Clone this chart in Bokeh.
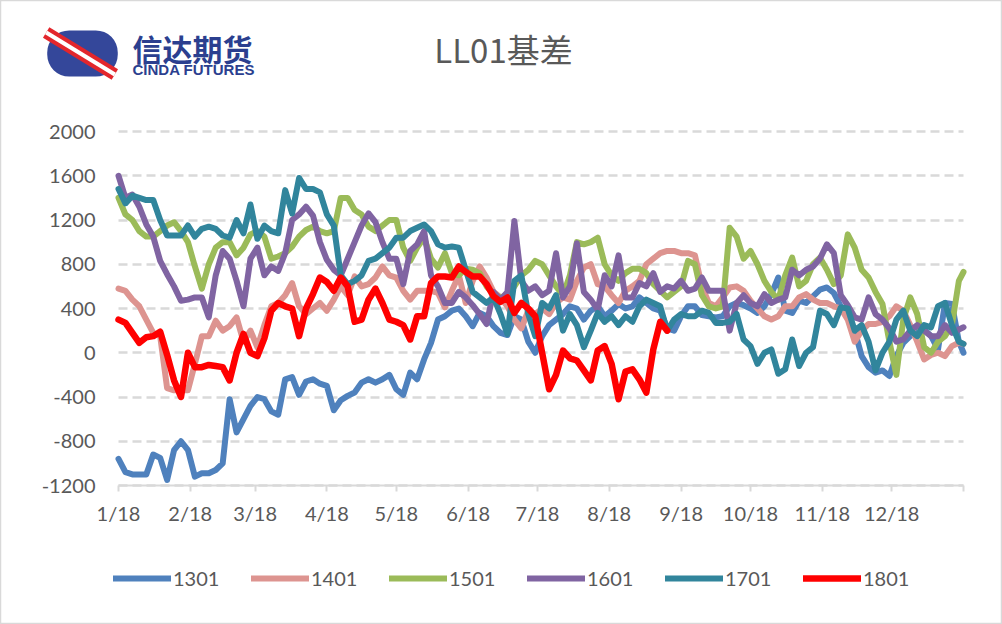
from bokeh.plotting import figure
from bokeh.models import Range1d, Label, Legend, LegendItem, FixedTicker
from bokeh.embed import file_html
from bokeh.resources import INLINE

# x positions: days after 1/18 (season day), ticks on the 18th of each month
days = list(range(0, 364, 3)) + [365]
tick_days = [0, 31, 59, 90, 120, 151, 181, 212, 243, 273, 304, 334, 365]
tick_labels = ["1/18", "2/18", "3/18", "4/18", "5/18", "6/18", "7/18",
               "8/18", "9/18", "10/18", "11/18", "12/18", ""]
y_ticks = [-1200, -800, -400, 0, 400, 800, 1200, 1600, 2000]

s1301 = [-960, -1080, -1100, -1100, -1100, -920, -950, -1150, -880, -800,
         -880, -1120, -1090, -1090, -1060, -1000, -420, -720, -600, -480,
         -400, -420, -530, -560, -240, -220, -380, -260, -240, -280,
         -300, -520, -430, -390, -360, -270, -240, -270, -240, -200,
         -330, -380, -180, -240, -60, 90, 300, 330, 380, 400,
         330, 240, 360, 330, 240, 180, 160, 330, 300, 100,
         0, 150, 250, 300, 350, 420, 400, 300, 380, 420,
         330, 380, 440, 400, 420, 500, 450, 400, 380, 220,
         200, 330, 420, 420, 340, 330, 320, 330, 420, 450,
         430, 400, 360, 420, 530, 680, 380, 360, 470, 450,
         510, 570, 590, 540, 420, 320, 200, -30, -130, -180,
         -160, -210, -30, 90, 150, 200, 210, 150, 30, 450,
         440, 100, 0]

s1401 = [580, 560, 480, 420, 300, 180, 150, -320, -340, -340,
         -340, -100, 150, 150, 290, 200, 240, 320, 100, 200,
         50, 250, 420, 450, 520, 630, 420, 350, 400, 450,
         380, 480, 600, 520, 690, 600, 620, 680, 780, 700,
         680, 560, 480, 560, 560, 560, 540, 410, 560, 700,
         450, 650, 780, 680, 550, 500, 420, 300, 220, 380,
         350, 400, 350, 450, 500, 480, 650, 770, 800, 620,
         600, 520, 450, 560, 600, 650, 800, 850, 900, 920,
         920, 900, 900, 880, 600, 450, 420, 500, 590, 600,
         560, 470, 400, 330, 300, 330, 420, 420, 500, 530,
         480, 450, 450, 420, 400, 300, 100, 200, 260, 260,
         280, 330, 420, 380, 250, 100, -60, -20, 0, -30,
         60, 90, 80]

s1501 = [1400, 1250, 1200, 1100, 1050, 1050, 1100, 1150, 1180, 1100,
         1000, 780, 580, 800, 950, 1000, 1000, 880, 950, 1070,
         1100, 1050, 850, 870, 900, 960, 1050, 1110, 1140, 1100,
         1080, 1100, 1400, 1400, 1290, 1250, 1140, 1100, 1150, 1200,
         1200, 950, 830, 950, 1040, 850, 770, 900, 720, 700,
         760, 750, 720, 600, 530, 500, 520, 600, 700, 750,
         830, 800, 700, 600, 520, 700, 1000, 980, 1000, 1040,
         800, 700, 650, 720, 760, 760, 720, 620, 560, 500,
         550, 600, 830, 800, 520, 420, 400, 420, 1130, 1050,
         850, 920, 800, 650, 550, 480, 700, 860, 600, 650,
         800, 860, 750, 620, 700, 1070, 950, 750, 680, 550,
         440, 100, -200, 300, 500, 350, 50, 0, 100, 150,
         250, 650, 730]

s1601 = [1600, 1400, 1430, 1320, 1160, 1050, 830, 710, 600, 470,
         480, 500, 500, 320, 700, 920, 850, 650, 420, 850,
         950, 700, 780, 740, 900, 1200, 1250, 1320, 1240, 1000,
         840, 750, 700, 850, 1000, 1150, 1260, 1180, 1000, 850,
         850, 620, 920, 980, 1100, 700, 600, 450, 450, 550,
         500, 430, 350, 260, 550, 480, 550, 1190, 650, 560,
         600, 520, 560, 900, 500, 600, 990, 550, 480, 390,
         700, 600, 880, 500, 500, 630, 600, 720, 550, 600,
         580, 650, 560, 580, 680, 560, 560, 560, 200, 450,
         520, 450, 420, 530, 450, 480, 500, 750, 700, 750,
         780, 850, 980, 900, 520, 430, 320, 300, 500, 350,
         300, 220, 100, 120, 200, 250, 200, 150, 150, 250,
         180, 210, 230]

s1701 = [1480, 1350, 1420, 1400, 1380, 1380, 1200, 1060, 1060, 1060,
         1150, 1050, 1120, 1140, 1120, 1060, 1040, 1200, 1080, 1340,
         1030, 1150, 1100, 1080, 1470, 1260, 1580, 1480, 1480, 1450,
         1250, 1150, 700, 620, 650, 700, 830, 850, 900, 950,
         1040, 1040, 1100, 1130, 1160, 1100, 980, 950, 960, 950,
         750, 550, 500, 450, 500, 350, 170, 650, 700, 350,
         150, 450, 400, 520, 200, 350, 250, 50, 200, 360,
         280, 330, 250, 330, 280, 420, 480, 450, 420, 200,
         300, 350, 330, 330, 380, 360, 270, 270, 280, 350,
         120, 60, -100, 0, 30, -190, -150, 120, -120, 0,
         50, 380, 350, 250, 410, 400, 200, 250, 100, -160,
         0, 100, 300, 380, 200, 150, 250, 230, 420, 450,
         250, 100, 80]

s1801 = [300, 270, 180, 90, 140, 150, 190, -20, -250, -400,
         0, -130, -130, -110, -120, -130, -250, 0, 170, 0,
         -30, 130, 380, 450, 420, 400, 150, 400, 530, 680,
         640, 560, 680, 600, 280, 300, 480, 580, 450, 300,
         280, 250, 120, 330, 330, 630, 690, 690, 680, 780,
         730, 690, 690, 620, 510, 460, 500, 360, 450, 400,
         330, 0, -330, -200, 20, -50, -70, -160, -250, 20,
         60, -100, -420, -170, -150, -240, -360, 30, 280, 200]

series = [("1301", s1301, "#4F81BD", 6),
          ("1401", s1401, "#DD9490", 6),
          ("1501", s1501, "#9BBB59", 6),
          ("1601", s1601, "#8064A2", 6),
          ("1701", s1701, "#31859C", 6),
          ("1801", s1801, "#FF0000", 6.5)]

TXT = "#595959"
FONT = "Lato"
W, H = 1002, 624

# frame spans the whole picture; the data area (0..365 days, -1200..2000)
# sits at pixels x 118..963, y 131..485
px_per_day = 845 / 365
units_per_px = 3200 / 354
x0 = 0 - 118 / px_per_day
x1 = 365 + (W - 963) / px_per_day
y1 = 2000 + 131 * units_per_px
y0 = -1200 - (H - 485) * units_per_px

p = figure(width=W, height=H, output_backend="svg", toolbar_location=None,
           x_range=Range1d(x0, x1), y_range=Range1d(y0, y1), min_border=0)
p.outline_line_color = "#D9D9D9"
p.outline_line_width = 1.5
p.background_fill_color = "white"
p.border_fill_color = "white"

p.xgrid.visible = False
p.ygrid.grid_line_color = "#D9D9D9"
p.ygrid.grid_line_width = 2.5
p.ygrid.grid_line_dash = "9 5"
p.ygrid.bounds = (-1200, 2000)
p.ygrid.cross_bounds = (0, 365)

p.xaxis.fixed_location = -1200
p.xaxis.bounds = (0, 365)
p.xaxis.ticker = FixedTicker(ticks=tick_days)
p.xaxis.major_label_overrides = {d: l for d, l in zip(tick_days, tick_labels)}
p.xaxis.axis_line_color = "#D9D9D9"
p.xaxis.axis_line_width = 2
p.xaxis.major_tick_line_color = "#D9D9D9"
p.xaxis.major_tick_line_width = 2
p.xaxis.major_tick_in = 0
p.xaxis.major_tick_out = 6
p.xaxis.minor_tick_line_color = None
p.xaxis.major_label_standoff = 9
p.xaxis.major_label_text_font = FONT
p.xaxis.major_label_text_font_size = "20px"
p.xaxis.major_label_text_color = TXT

p.yaxis.fixed_location = 0
p.yaxis.bounds = (-1200, 2000)
p.yaxis.ticker = FixedTicker(ticks=y_ticks)
p.yaxis.major_label_overrides = {v: str(v) for v in y_ticks}
p.yaxis.axis_line_color = None
p.yaxis.major_tick_line_color = None
p.yaxis.minor_tick_line_color = None
p.yaxis.major_tick_in = 0
p.yaxis.major_tick_out = 0
p.yaxis.major_label_standoff = 23
p.yaxis.major_label_text_font = FONT
p.yaxis.major_label_text_font_size = "20px"
p.yaxis.major_label_text_color = TXT

items = []
for name, vals, color, lw in series:
    r = p.line(days[:len(vals)], vals, line_color=color, line_width=lw,
               line_join="round", line_cap="round")
    items.append(LegendItem(label=name, renderers=[r]))

legend = Legend(items=items, orientation="horizontal", location=(113, 34),
                glyph_width=58, glyph_height=24, label_height=24, label_width=78,
                label_standoff=2, spacing=0, padding=0, margin=0,
                border_line_color=None, background_fill_alpha=0,
                label_text_font=FONT, label_text_font_size="20px",
                label_text_color=TXT)
p.add_layout(legend)

# title
p.add_layout(Label(x=503, y=H - 48, x_units="screen", y_units="screen",
                   text="LL01基差", text_font="Noto Sans CJK SC",
                   text_font_size="33px", text_color=TXT,
                   text_align="center", text_baseline="middle"))

# logo: ellipse with red swoosh, and company name
p.add_layout(Label(x=82, y=H - 53, x_units="screen", y_units="screen", text=" ",
                   text_font_size="2px", text_align="center", text_baseline="middle",
                   background_fill_color="#34479A",
                   padding=dict(left=35, right=35, top=22, bottom=22),
                   border_radius=22))
p.add_layout(Label(x=80, y=H - 53, x_units="screen", y_units="screen", text=" ",
                   text_font_size="2px", text_align="center", text_baseline="middle",
                   angle=-0.55, background_fill_color="#E3262C",
                   padding=dict(left=40, right=40, top=5, bottom=5)))
p.add_layout(Label(x=80, y=H - 53, x_units="screen", y_units="screen", text=" ",
                   text_font_size="2px", text_align="center", text_baseline="middle",
                   angle=-0.55, background_fill_color="white",
                   padding=dict(left=40, right=40, top=1, bottom=1)))
p.add_layout(Label(x=132, y=H - 47, x_units="screen", y_units="screen",
                   text="信达期货", text_font="Noto Sans CJK SC", text_font_style="bold",
                   text_font_size="30px", text_color="#2B3F8F", text_baseline="middle"))
p.add_layout(Label(x=132, y=H - 69, x_units="screen", y_units="screen",
                   text="CINDA FUTURES", text_font="Liberation Sans", text_font_style="bold",
                   text_font_size="15px", text_color="#2B3F8F", text_baseline="middle"))

open("out.html", "w", encoding="utf-8").write(file_html(p, INLINE))
